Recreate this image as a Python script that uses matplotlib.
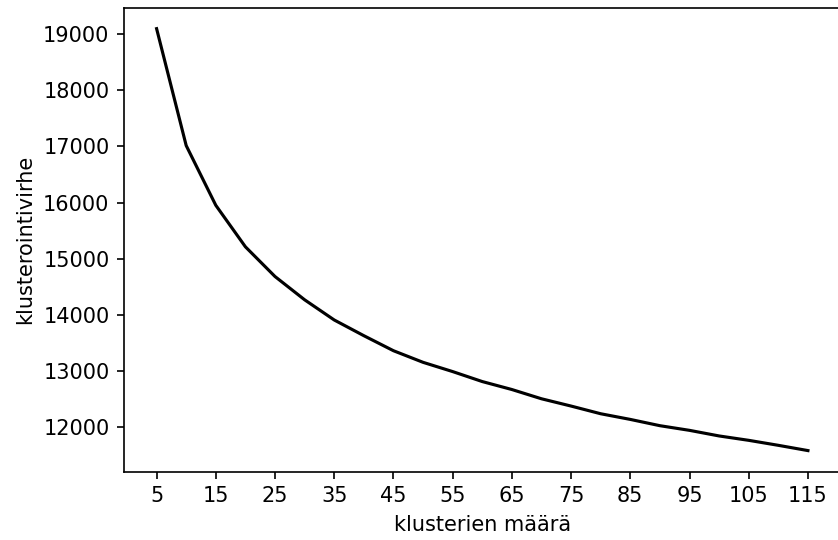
import matplotlib
matplotlib.use('Agg')
import matplotlib.pyplot as plt

# number of clusters and clustering error
clusters = [5, 10, 15, 20, 25, 30, 35, 40, 45, 50, 55, 60,
            65, 70, 75, 80, 85, 90, 95, 100, 105, 110, 115]
errors = [19100, 17015, 15950, 15210, 14680, 14265, 13905, 13625, 13357, 13150, 12985, 12807,
          12665, 12500, 12370, 12233, 12132, 12020, 11937, 11837, 11759, 11670, 11576]
xticks = list(range(5, 116, 10))

fig = plt.figure(figsize=(838 / 150, 540 / 150), dpi=150)
ax = fig.add_axes([0.148, 0.1265, 0.855, 0.8595])
ax.plot(clusters, errors, color='black', linewidth=1.5)
ax.set_xticks(xticks)
ax.set_xlabel('klusterien määrä')
ax.set_ylabel('klusterointivirhe')
# the right edge of the frame falls just off the canvas in the original
ax.spines['right'].set_visible(False)

fig.savefig('out.png', dpi=150)
